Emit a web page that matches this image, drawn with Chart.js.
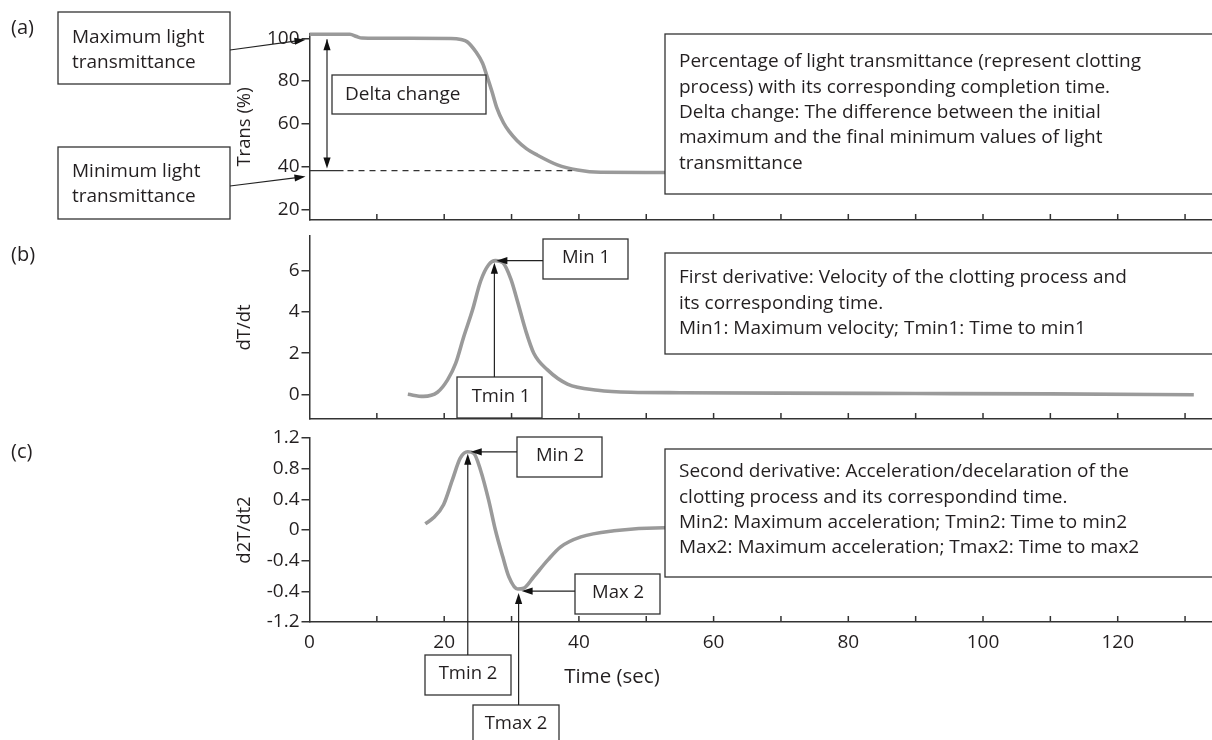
<!DOCTYPE html>
<html lang="en">
<head>
<meta charset="UTF-8" />
<title>Clotting curve and derivatives</title>
<style>
  * { margin: 0; padding: 0; box-sizing: border-box; }
  body { width: 1212px; height: 740px; background: #fff; overflow: hidden; position: relative; }
  canvas { position: absolute; top: 0; left: 0; pointer-events: none; }
</style>
</head>
<body>
<canvas id="chartA" width="1212" height="740"></canvas>
<canvas id="chartB" width="1212" height="740"></canvas>
<canvas id="chartC" width="1212" height="740"></canvas>
<script src="https://cdn.jsdelivr.net/npm/chart.js"></script>
<script>
// (a) light transmittance
const transTime = [0, 6, 7, 7.8, 10, 15, 21, 22.5, 23.4, 24.7, 25.7, 26.3, 27.1, 27.8, 28.8, 29.7, 30.8, 32.2, 33.8, 36.8, 39.8, 43.2, 50, 60, 80, 100, 120, 131];
const transValues = [101.9, 101.9, 100.8, 100.1, 100, 100, 99.9, 99.4, 98.4, 93.7, 88.3, 82.8, 75, 67.6, 60.5, 56.2, 52.2, 48.4, 45.4, 40.8, 38.4, 37.3, 37.2, 37.2, 37.2, 37.2, 37.2, 37.2];
const transTicks = [20, 40, 60, 80, 100];
const transMinLine = 38.1;

// (b) first derivative
const velTime = [14.6, 16.9, 19.0, 20.5, 21.7, 22.9, 24.2, 25.4, 26.6, 27.6, 28.7, 29.9, 30.9, 32.1, 33.3, 35.3, 38.3, 42.8, 47.7, 55, 70, 90, 110, 131.3];
const velValues = [0, -0.1, 0.1, 0.7, 1.5, 2.8, 4.1, 5.5, 6.3, 6.5, 6.4, 5.6, 4.5, 3.1, 2.0, 1.2, 0.5, 0.2, 0.1, 0.08, 0.06, 0.04, 0.02, -0.02];
const velTicks = [0, 2, 4, 6];

// (c) second derivative
const accTime = [17.2, 18.4, 19.9, 21.2, 22.4, 23.5, 24.4, 25.4, 26.6, 27.6, 28.7, 29.6, 30.9, 31.8, 33.3, 35.4, 37.3, 40.3, 45.2, 52.6, 60];
const accValues = [0.08, 0.16, 0.33, 0.65, 0.94, 1.02, 1.0, 0.78, 0.39, 0, -0.35, -0.61, -0.77, -0.76, -0.61, -0.39, -0.22, -0.09, -0.01, 0.03, 0.03];
const accTicks = [-1.2, -0.8, -0.4, 0, 0.4, 0.8, 1.2];
const accTickLabels = ["-1.2", "-0.4", "-0.4", "0", "0.4", "0.8", "1.2"];

const timeTicks = [0, 20, 40, 60, 80, 100, 120];

const FONT = "'Open Sans', 'Noto Sans', sans-serif";
const INK = "#231f20";
const AXIS = "#333";
const CURVE = "#9a9a9a";

Chart.defaults.font.family = FONT;
Chart.defaults.color = INK;

function pts(xs, ys) {
  return xs.map((x, i) => ({ x: x, y: ys[i] }));
}

function box(ctx, x, y, w, h) {
  ctx.save();
  ctx.fillStyle = "#fff";
  ctx.fillRect(x, y, w, h);
  ctx.strokeStyle = AXIS;
  ctx.lineWidth = 1.3;
  ctx.strokeRect(x, y, w, h);
  ctx.restore();
}

function text(ctx, s, x, y, size, align) {
  ctx.save();
  ctx.font = size + "px " + FONT;
  ctx.fillStyle = INK;
  ctx.textAlign = align || "left";
  ctx.textBaseline = "middle";
  ctx.fillText(s, x, y);
  ctx.restore();
}

function lines(ctx, arr, x, y0, gap, size) {
  arr.forEach((s, i) => text(ctx, s, x, y0 + i * gap, size));
}

function arrow(ctx, x1, y1, x2, y2, head) {
  const a = Math.atan2(y2 - y1, x2 - x1);
  const len = 11, hw = 3.6;
  ctx.save();
  ctx.strokeStyle = "#222";
  ctx.fillStyle = "#111";
  ctx.lineWidth = 1.2;
  ctx.beginPath();
  ctx.moveTo(x1, y1);
  ctx.lineTo(x2 - Math.cos(a) * len * 0.8, y2 - Math.sin(a) * len * 0.8);
  ctx.stroke();
  const heads = head === "both" ? [[x2, y2, a], [x1, y1, a + Math.PI]] : [[x2, y2, a]];
  heads.forEach(([hx, hy, ang]) => {
    ctx.beginPath();
    ctx.moveTo(hx, hy);
    ctx.lineTo(hx - Math.cos(ang) * len - Math.sin(ang) * hw, hy - Math.sin(ang) * len + Math.cos(ang) * hw);
    ctx.lineTo(hx - Math.cos(ang) * len + Math.sin(ang) * hw, hy - Math.sin(ang) * len - Math.cos(ang) * hw);
    ctx.closePath();
    ctx.fill();
  });
  ctx.restore();
}

// small inward ticks on the time axis, every 10 s
function innerTicks(chart) {
  const ctx = chart.ctx;
  const xs = chart.scales.x;
  const b = chart.chartArea.bottom;
  ctx.save();
  ctx.strokeStyle = AXIS;
  ctx.lineWidth = 1.5;
  for (let v = 10; v <= xs.max; v += 10) {
    const px = xs.getPixelForValue(v);
    ctx.beginPath();
    ctx.moveTo(px, b);
    ctx.lineTo(px, b - 6);
    ctx.stroke();
  }
  ctx.restore();
}

function makeChart(id, opt) {
  const axisH = opt.xLabels ? 60 : 0;
  return new Chart(document.getElementById(id), {
    type: "line",
    data: {
      datasets: [{
        data: opt.data,
        borderColor: CURVE,
        borderWidth: 3.6,
        pointRadius: 0,
        cubicInterpolationMode: "monotone",
        clip: false
      }]
    },
    options: {
      responsive: false,
      animation: false,
      events: [],
      layout: { padding: { left: 230, right: 0, top: opt.top, bottom: 740 - opt.bottom - axisH } },
      plugins: { legend: { display: false }, tooltip: { enabled: false } },
      scales: {
        x: {
          type: "linear",
          min: 0,
          max: 134,
          afterFit: s => { s.height = axisH; },
          afterBuildTicks: s => { s.ticks = timeTicks.map(v => ({ value: v })); },
          grid: { display: false, drawTicks: false },
          border: { display: true, color: AXIS, width: 1.5 },
          ticks: {
            display: opt.xLabels,
            padding: 9,
            font: { size: 19 },
            color: INK,
            maxRotation: 0,
            autoSkip: false
          }
        },
        y: {
          type: "linear",
          min: opt.min,
          max: opt.max,
          afterFit: s => { s.width = 79.5; },
          afterBuildTicks: s => { s.ticks = opt.ticks.map(v => ({ value: v })); },
          grid: { drawOnChartArea: false, drawTicks: true, tickLength: 8, color: AXIS, lineWidth: 1.5 },
          border: { display: true, color: AXIS, width: 1.5 },
          ticks: {
            padding: 2,
            font: { size: 19 },
            color: INK,
            autoSkip: false,
            callback: opt.tickLabel || (v => String(v))
          },
          title: { display: true, text: opt.title, font: { size: 18.5 }, color: INK }
        }
      }
    },
    plugins: [{
      id: "notes_" + id,
      afterDraw(chart) {
        opt.notes(chart);
        innerTicks(chart);
      }
    }]
  });
}

makeChart("chartA", {
  data: pts(transTime, transValues),
  top: 34, bottom: 220, min: 15, max: 102,
  ticks: transTicks, title: "Trans (%)", xLabels: false,
  notes(chart) {
    const ctx = chart.ctx, xs = chart.scales.x, ys = chart.scales.y;
    const left = chart.chartArea.left;
    const yMax = ys.getPixelForValue(100), yMin = ys.getPixelForValue(transMinLine);
    // minimum level line: solid stub then dashed
    ctx.save();
    ctx.strokeStyle = "#333";
    ctx.lineWidth = 1.2;
    ctx.beginPath();
    ctx.moveTo(left, yMin); ctx.lineTo(left + 34, yMin); ctx.stroke();
    ctx.setLineDash([6, 5]);
    ctx.beginPath();
    ctx.moveTo(left + 38, yMin); ctx.lineTo(xs.getPixelForValue(39), yMin); ctx.stroke();
    ctx.restore();

    arrow(ctx, left + 17.5, yMax + 1, left + 17.5, yMin - 2, "both");

    text(ctx, "(a)", 11, 28, 20);
    box(ctx, 58, 12, 172, 72);
    lines(ctx, ["Maximum light", "transmittance"], 72, 38, 25, 19);
    arrow(ctx, 230, 50, left - 4, yMax + 1.5);
    box(ctx, 58, 147, 172, 72);
    lines(ctx, ["Minimum light", "transmittance"], 72, 172, 25, 19);
    arrow(ctx, 230, 186, left - 4, yMin + 6);

    box(ctx, 332, 75, 154, 39);
    text(ctx, "Delta change", 345, 95, 19);

    box(ctx, 665, 34, 560, 160);
    lines(ctx, [
      "Percentage of light transmittance (represent clotting",
      "process) with its corresponding completion time.",
      "Delta change: The difference between the initial",
      "maximum and the final minimum values of light",
      "transmittance"
    ], 679, 62, 25.3, 19);
  }
});

makeChart("chartB", {
  data: pts(velTime, velValues),
  top: 236, bottom: 419, min: -1.2, max: 7.7,
  ticks: velTicks, title: "dT/dt", xLabels: false,
  notes(chart) {
    const ctx = chart.ctx, xs = chart.scales.x, ys = chart.scales.y;
    const peak = velValues.indexOf(Math.max(...velValues));
    const px = xs.getPixelForValue(velTime[peak]) - 1;
    const py = ys.getPixelForValue(velValues[peak]);
    text(ctx, "(b)", 11, 255, 20);
    box(ctx, 543, 239, 85, 40);
    text(ctx, "Min 1", 586, 258, 18.5, "center");
    arrow(ctx, 543, py, px + 2, py);
    box(ctx, 457, 377, 85, 41);
    text(ctx, "Tmin 1", 501, 397, 18.5, "center");
    arrow(ctx, px, 377, px, py + 2);

    box(ctx, 665, 253, 560, 101);
    lines(ctx, [
      "First derivative: Velocity of the clotting process and",
      "its corresponding time.",
      "Min1: Maximum velocity; Tmin1: Time to min1"
    ], 679, 278, 25.5, 19);
  }
});

makeChart("chartC", {
  data: pts(accTime, accValues),
  top: 438, bottom: 622, min: -1.2, max: 1.2,
  ticks: accTicks, title: "d2T/dt2", xLabels: true,
  tickLabel: v => accTickLabels[accTicks.findIndex(t => Math.abs(t - v) < 1e-6)],
  notes(chart) {
    const ctx = chart.ctx, xs = chart.scales.x, ys = chart.scales.y;
    const hi = accValues.indexOf(Math.max(...accValues));
    const lo = accValues.indexOf(Math.min(...accValues));
    const hx = xs.getPixelForValue(accTime[hi]), hy = ys.getPixelForValue(accValues[hi]);
    const lx = xs.getPixelForValue(accTime[lo]) + 1, ly = ys.getPixelForValue(accValues[lo]);
    text(ctx, "(c)", 11, 452, 20);

    box(ctx, 517, 437, 85, 40);
    text(ctx, "Min 2", 560, 456, 18.5, "center");
    arrow(ctx, 517, hy, hx + 3, hy);
    box(ctx, 425, 655, 86, 40);
    text(ctx, "Tmin 2", 468, 674, 18.5, "center");
    arrow(ctx, hx, 655, hx, hy + 2);

    box(ctx, 575, 574, 85, 40);
    text(ctx, "Max 2", 618, 593, 18.5, "center");
    arrow(ctx, 575, ly + 2, lx + 3, ly + 2);
    box(ctx, 473, 705, 86, 40);
    text(ctx, "Tmax 2", 516, 724, 18.5, "center");
    arrow(ctx, lx, 705, lx, ly + 4);

    box(ctx, 665, 449, 560, 128);
    lines(ctx, [
      "Second derivative: Acceleration/decelaration of the",
      "clotting process and its correspondind time.",
      "Min2: Maximum acceleration; Tmin2: Time to min2",
      "Max2: Maximum acceleration; Tmax2: Time to max2"
    ], 679, 472, 25.3, 19);

    text(ctx, "Time (sec)", 612, 677, 20.5, "center");
  }
});
</script>
</body>
</html>
